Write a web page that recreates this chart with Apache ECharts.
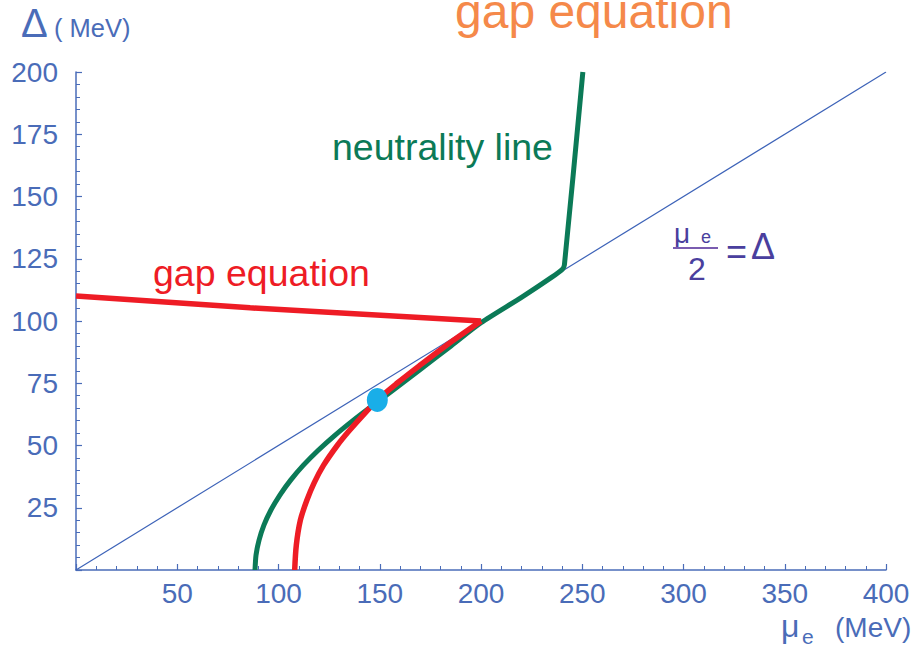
<!DOCTYPE html>
<html>
<head>
<meta charset="utf-8">
<script src="https://cdn.jsdelivr.net/npm/echarts@6/dist/echarts.min.js"></script>
<style>
  html, body { margin: 0; padding: 0; background: #ffffff; }
  #chart { width: 920px; height: 653px; }
</style>
</head>
<body>
<div id="chart"></div>
<script>
// Axis ticks (MeV)
const xTicks = [0, 50, 100, 150, 200, 250, 300, 350, 400];
const yTicks = [0, 25, 50, 75, 100, 125, 150, 175, 200];

// Reference line  mu_e / 2 = Delta
const diagMu = [0, 400];
const diagDelta = [0, 200];

// Gap equation: nearly flat upper branch
const gapFlatMu = [0, 86, 200];
const gapFlatDelta = [110, 105.3, 100];

// Gap equation: lower branch bending down to Delta = 0
const gapCurveMu = [200, 182.5, 169.5, 158.5, 148.8, 141.6, 135, 129, 122.2, 117.6, 114, 110.8, 108.8, 108];
const gapCurveDelta = [100, 90, 82, 75, 68.3, 62, 56, 50, 42, 35, 28, 20, 10, 0];

// Neutrality line
const neutralMu = [88.4, 88.9, 90.4, 92.8, 96.2, 100.6, 105.9, 112.2, 119.5, 127.7, 136.7, 146.3, 156.2, 169.2, 185.2, 200, 220, 235, 240.2, 241.2, 250.3];
const neutralDelta = [0, 6, 12, 18, 24, 30, 36, 42, 48, 54, 60, 66, 72, 80, 90, 99.3, 109.5, 117.6, 120.8, 122.6, 200];

// Solution point
const solutionMu = [148.8];
const solutionDelta = [68.3];

const axisBlue = '#4a6cb8';
const formulaPurple = '#4a3f9e';
const zip = (a, b) => a.map((v, i) => [v, b[i]]);
const font = '"Liberation Sans", Arial, sans-serif';

const chart = echarts.init(document.getElementById('chart'), null, { renderer: 'svg' });

function axisCommon(ticks, minorSplit) {
  return {
    type: 'value',
    min: ticks[0],
    max: ticks[ticks.length - 1],
    interval: ticks[1] - ticks[0],
    splitLine: { show: false },
    axisLine: { show: true, lineStyle: { color: axisBlue, width: 1.5 } },
    axisTick: { show: true, inside: true, length: 6, lineStyle: { color: axisBlue, width: 1.2 } },
    minorTick: { show: true, splitNumber: minorSplit, length: 4, lineStyle: { color: axisBlue, width: 1 } },
    axisLabel: {
      color: axisBlue, fontSize: 28, fontFamily: font, showMinLabel: false,
      formatter: v => (ticks.indexOf(v) > 0 ? String(v) : '')
    }
  };
}

const xAxis = axisCommon(xTicks, 5);
xAxis.axisLabel.margin = 9;
const yAxis = axisCommon(yTicks, 5);
yAxis.axisLabel.margin = 18;

chart.setOption({
  animation: false,
  backgroundColor: '#ffffff',
  grid: { left: 76, right: 34, top: 72, bottom: 83 },
  xAxis: xAxis,
  yAxis: yAxis,
  series: [
    {
      name: 'mu_e/2 = Delta', type: 'line', data: zip(diagMu, diagDelta),
      symbol: 'none', lineStyle: { color: '#3d63b8', width: 1.2 }, z: 2
    },
    {
      name: 'neutrality line', type: 'line', data: zip(neutralMu, neutralDelta),
      symbol: 'none', smooth: 0.25, clip: false,
      lineStyle: { color: '#0b7a57', width: 5 }, z: 3
    },
    {
      name: 'gap equation (flat)', type: 'line', data: zip(gapFlatMu, gapFlatDelta),
      symbol: 'none', lineStyle: { color: '#ee1c25', width: 5.5 }, z: 4
    },
    {
      name: 'gap equation (lower)', type: 'line', data: zip(gapCurveMu, gapCurveDelta),
      symbol: 'none', smooth: 0.3, lineStyle: { color: '#ee1c25', width: 5.5 }, z: 4
    },
    {
      name: 'solution', type: 'scatter', data: zip(solutionMu, solutionDelta),
      symbol: 'circle', symbolSize: [21, 24], itemStyle: { color: '#19aee8', opacity: 1 }, z: 6
    }
  ],
  graphic: [
    // title
    { type: 'text', style: { text: 'gap equation', x: 455, y: 11, verticalAlign: 'middle', font: '48px ' + font, fill: '#f5894a' } },
    // curve labels
    { type: 'text', style: { text: 'gap equation', x: 153, y: 273, verticalAlign: 'middle', font: '37.5px ' + font, fill: '#ee1c25' } },
    { type: 'text', style: { text: 'neutrality line', x: 332, y: 147, verticalAlign: 'middle', font: '37.5px ' + font, fill: '#0b7a57' } },
    // formula mu_e / 2 = Delta
    { type: 'text', style: { text: 'μ', x: 674, y: 233, verticalAlign: 'middle', font: '28px ' + font, fill: formulaPurple } },
    { type: 'text', style: { text: 'e', x: 701, y: 237, verticalAlign: 'middle', font: '18px ' + font, fill: formulaPurple } },
    { type: 'rect', shape: { x: 673, y: 247, width: 45, height: 2 }, style: { fill: '#7a5cb0' } },
    { type: 'text', style: { text: '2', x: 688, y: 269, verticalAlign: 'middle', font: '32px ' + font, fill: formulaPurple } },
    { type: 'text', style: { text: '=', x: 726, y: 251, verticalAlign: 'middle', font: '36px ' + font, fill: formulaPurple } },
    { type: 'text', style: { text: 'Δ', x: 751, y: 246, verticalAlign: 'middle', font: '36px ' + font, fill: formulaPurple } },
    // y axis name
    { type: 'text', style: { text: 'Δ', x: 21, y: 23, verticalAlign: 'middle', font: '40px ' + font, fill: axisBlue } },
    { type: 'text', style: { text: '( MeV)', x: 54, y: 28, verticalAlign: 'middle', font: '25.5px ' + font, fill: axisBlue } },
    // x axis name
    { type: 'text', style: { text: 'μ', x: 781, y: 626, verticalAlign: 'middle', font: '32px ' + font, fill: axisBlue } },
    { type: 'text', style: { text: 'e', x: 802, y: 636, verticalAlign: 'middle', font: '21px ' + font, fill: axisBlue } },
    { type: 'text', style: { text: '(MeV)', x: 835, y: 627, verticalAlign: 'middle', font: '28px ' + font, fill: axisBlue } }
  ]
});
</script>
</body>
</html>
